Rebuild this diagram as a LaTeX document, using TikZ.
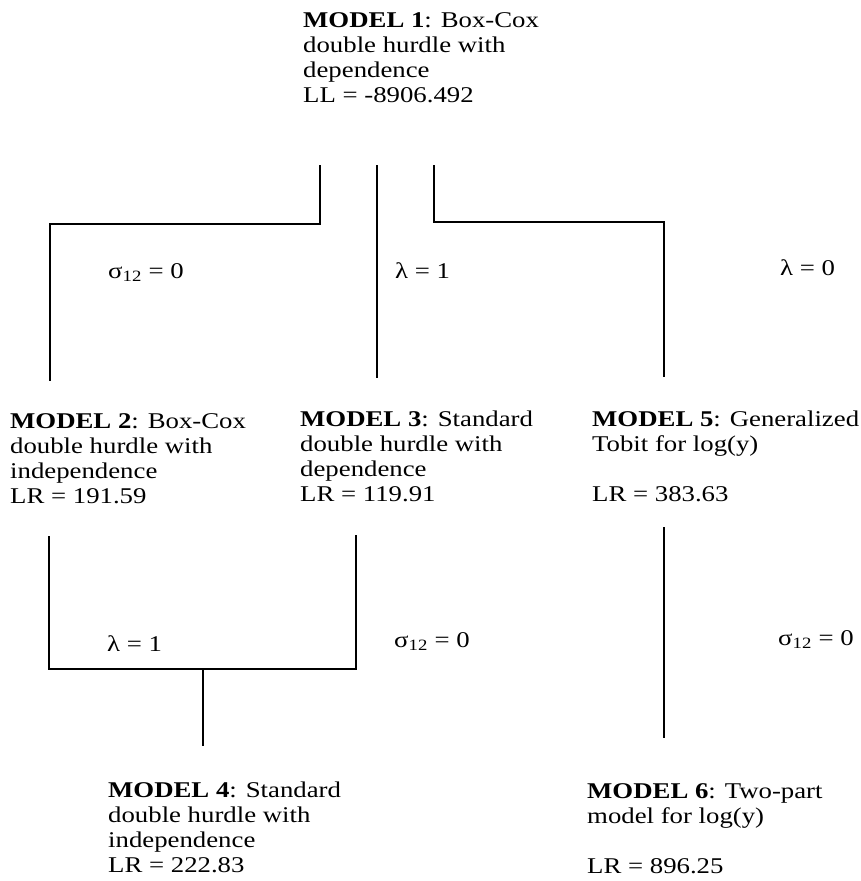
\documentclass[tikz,border=0pt]{standalone}
\usepackage{fontspec}
\setmainfont{Liberation Serif}[FakeStretch=1.19]
\tikzset{
  model/.style={anchor=north west, inner sep=0pt, align=left,
    font=\fontsize{22.5}{25}\selectfont},
  cond/.style={anchor=base west, inner sep=0pt,
    font=\fontsize{22.5}{25}\selectfont},
  link/.style={line width=1.7pt, line cap=butt, line join=miter},
}
\begin{document}
\begin{tikzpicture}[x=1pt,y=-1pt]
\useasboundingbox (0,0) rectangle (860,881);

% model boxes (text only)
\node[model] (m1) at (303,12) {\textbf{MODEL 1}: Box-Cox\\double hurdle with\\dependence\\LL = -8906.492};
\node[model] (m2) at (10,413) {\textbf{MODEL 2}: Box-Cox\\double hurdle with\\independence\\LR = 191.59};
\node[model] (m3) at (300,411) {\textbf{MODEL 3}: Standard\\double hurdle with\\dependence\\LR = 119.91};
\node[model] (m5) at (592,411) {\textbf{MODEL 5}: Generalized\\Tobit for log(y)\\[25pt]LR = 383.63};
\node[model] (m4) at (108,782) {\textbf{MODEL 4}: Standard\\double hurdle with\\independence\\LR = 222.83};
\node[model] (m6) at (587,783) {\textbf{MODEL 6}: Two-part\\model for log(y)\\[25pt]LR = 896.25};

% restriction labels
\node[cond] (s1) at (108,278) {σ\textsubscript{12} = 0};
\node[cond] (l1) at (395,278) {λ = 1};
\node[cond] (l0) at (780,275) {λ = 0};
\node[cond] (l1b) at (107,651) {λ = 1};
\node[cond] (s2) at (394,647) {σ\textsubscript{12} = 0};
\node[cond] (s3) at (778,645) {σ\textsubscript{12} = 0};

% connector end points and corners
\coordinate (a1) at (320,165);
\coordinate (a1c) at (320,224);
\coordinate (a2c) at (50,224);
\coordinate (a2) at (50,381);

\coordinate (b1) at (377,165);
\coordinate (b2) at (377,378);

\coordinate (c1) at (434,165);
\coordinate (c1c) at (434,222);
\coordinate (c2c) at (664,222);
\coordinate (c2) at (664,377);

\coordinate (d1) at (49,536);
\coordinate (d1c) at (49,669);
\coordinate (d2c) at (356,669);
\coordinate (d2) at (356,535);
\coordinate (dm) at (203,669);
\coordinate (d3) at (203,746);

\coordinate (e1) at (664,527);
\coordinate (e2) at (664,738);

% connectors
\draw[link] (a1) -- (a1c) -- (a2c) -- (a2);
\draw[link] (b1) -- (b2);
\draw[link] (c1) -- (c1c) -- (c2c) -- (c2);
\draw[link] (d1) -- (d1c) -- (d2c) -- (d2);
\draw[link] (dm) -- (d3);
\draw[link] (e1) -- (e2);
\end{tikzpicture}
\end{document}
